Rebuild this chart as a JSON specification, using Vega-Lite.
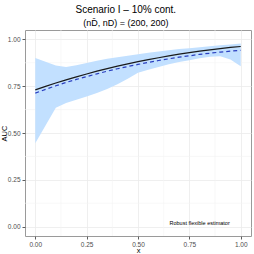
{
  "$schema": "https://vega.github.io/schema/vega-lite/v6.json",
  "autosize": "none",
  "width": 226,
  "height": 206,
  "padding": {"left": 25, "top": 30, "right": 3, "bottom": 18},
  "background": "white",
  "title": {
    "text": "Scenario I – 10% cont.",
    "subtitle": "(nD̄, nD) = (200, 200)",
    "anchor": "middle",
    "frame": "bounds",
    "font": "Liberation Sans",
    "fontSize": 10,
    "fontWeight": "normal",
    "color": "black",
    "subtitleFont": "Liberation Sans",
    "subtitleFontSize": 9,
    "subtitleColor": "black",
    "subtitlePadding": 4,
    "offset": 2
  },
  "config": {
    "view": {"stroke": "#9a9a9a", "strokeWidth": 1},
    "axis": {
      "grid": true,
      "gridColor": "#ebebeb",
      "gridWidth": 0.8,
      "domain": false,
      "tickColor": "#333333",
      "tickSize": 3,
      "tickWidth": 0.8,
      "labelColor": "#4d4d4d",
      "labelFont": "Liberation Sans",
      "labelFontSize": 6.5,
      "titleFont": "Liberation Sans",
      "titleFontSize": 7.5,
      "titleFontWeight": "normal",
      "titleColor": "black",
      "labelPadding": 2
    }
  },
  "datasets": {
    "curves": [
      {"x": 0.00, "lower": 0.445, "upper": 0.900, "truth": 0.730, "est": 0.713},
      {"x": 0.05, "lower": 0.540, "upper": 0.880, "truth": 0.749, "est": 0.733},
      {"x": 0.10, "lower": 0.635, "upper": 0.860, "truth": 0.767, "est": 0.752},
      {"x": 0.15, "lower": 0.660, "upper": 0.853, "truth": 0.784, "est": 0.770},
      {"x": 0.20, "lower": 0.678, "upper": 0.862, "truth": 0.800, "est": 0.786},
      {"x": 0.25, "lower": 0.695, "upper": 0.874, "truth": 0.815, "est": 0.801},
      {"x": 0.30, "lower": 0.713, "upper": 0.886, "truth": 0.830, "est": 0.816},
      {"x": 0.35, "lower": 0.735, "upper": 0.896, "truth": 0.844, "est": 0.830},
      {"x": 0.40, "lower": 0.760, "upper": 0.905, "truth": 0.857, "est": 0.843},
      {"x": 0.45, "lower": 0.790, "upper": 0.913, "truth": 0.869, "est": 0.855},
      {"x": 0.50, "lower": 0.822, "upper": 0.920, "truth": 0.881, "est": 0.866},
      {"x": 0.55, "lower": 0.838, "upper": 0.928, "truth": 0.892, "est": 0.877},
      {"x": 0.60, "lower": 0.853, "upper": 0.935, "truth": 0.902, "est": 0.887},
      {"x": 0.65, "lower": 0.867, "upper": 0.942, "truth": 0.912, "est": 0.896},
      {"x": 0.70, "lower": 0.879, "upper": 0.948, "truth": 0.921, "est": 0.905},
      {"x": 0.75, "lower": 0.889, "upper": 0.953, "truth": 0.929, "est": 0.912},
      {"x": 0.80, "lower": 0.899, "upper": 0.958, "truth": 0.937, "est": 0.920},
      {"x": 0.85, "lower": 0.907, "upper": 0.963, "truth": 0.944, "est": 0.926},
      {"x": 0.90, "lower": 0.910, "upper": 0.968, "truth": 0.951, "est": 0.932},
      {"x": 0.95, "lower": 0.893, "upper": 0.973, "truth": 0.957, "est": 0.937},
      {"x": 1.00, "lower": 0.856, "upper": 0.978, "truth": 0.962, "est": 0.942}
    ],
    "minor": [
      {"v": 0.125}, {"v": 0.375}, {"v": 0.625}, {"v": 0.875}
    ],
    "label": [
      {"x": 0.80, "y": 0.02, "text": "Robust flexible estimator"}
    ]
  },
  "layer": [
    {
      "data": {"name": "minor"},
      "mark": {"type": "rule", "color": "#f3f3f3", "strokeWidth": 0.6},
      "encoding": {
        "x": {"field": "v", "type": "quantitative", "scale": {"domain": [-0.05, 1.05], "nice": false, "zero": false}}
      }
    },
    {
      "data": {"name": "minor"},
      "mark": {"type": "rule", "color": "#f3f3f3", "strokeWidth": 0.6},
      "encoding": {
        "y": {"field": "v", "type": "quantitative"}
      }
    },
    {
      "data": {"name": "curves"},
      "mark": {"type": "area", "color": "#c2e0ff", "opacity": 1},
      "encoding": {
        "x": {"field": "x", "type": "quantitative", "title": "x",
              "scale": {"domain": [-0.05, 1.05], "nice": false, "zero": false},
              "axis": {"values": [0, 0.25, 0.5, 0.75, 1], "format": ".2f", "titlePadding": -1}},
        "y": {"field": "lower", "type": "quantitative", "title": "AUC",
              "scale": {"domain": [-0.05, 1.05], "nice": false, "zero": false},
              "axis": {"values": [0, 0.25, 0.5, 0.75, 1], "format": ".2f", "titlePadding": -1}},
        "y2": {"field": "upper"}
      }
    },
    {
      "data": {"name": "curves"},
      "mark": {"type": "line", "color": "#1a1a1a", "strokeWidth": 1.2},
      "encoding": {
        "x": {"field": "x", "type": "quantitative"},
        "y": {"field": "truth", "type": "quantitative"}
      }
    },
    {
      "data": {"name": "curves"},
      "mark": {"type": "line", "color": "#2a3fc0", "strokeWidth": 1.2, "strokeDash": [4, 3]},
      "encoding": {
        "x": {"field": "x", "type": "quantitative"},
        "y": {"field": "est", "type": "quantitative"}
      }
    },
    {
      "data": {"name": "label"},
      "mark": {"type": "text", "font": "Liberation Sans", "fontSize": 5.5, "color": "black"},
      "encoding": {
        "x": {"field": "x", "type": "quantitative"},
        "y": {"field": "y", "type": "quantitative"},
        "text": {"field": "text"}
      }
    }
  ]
}
